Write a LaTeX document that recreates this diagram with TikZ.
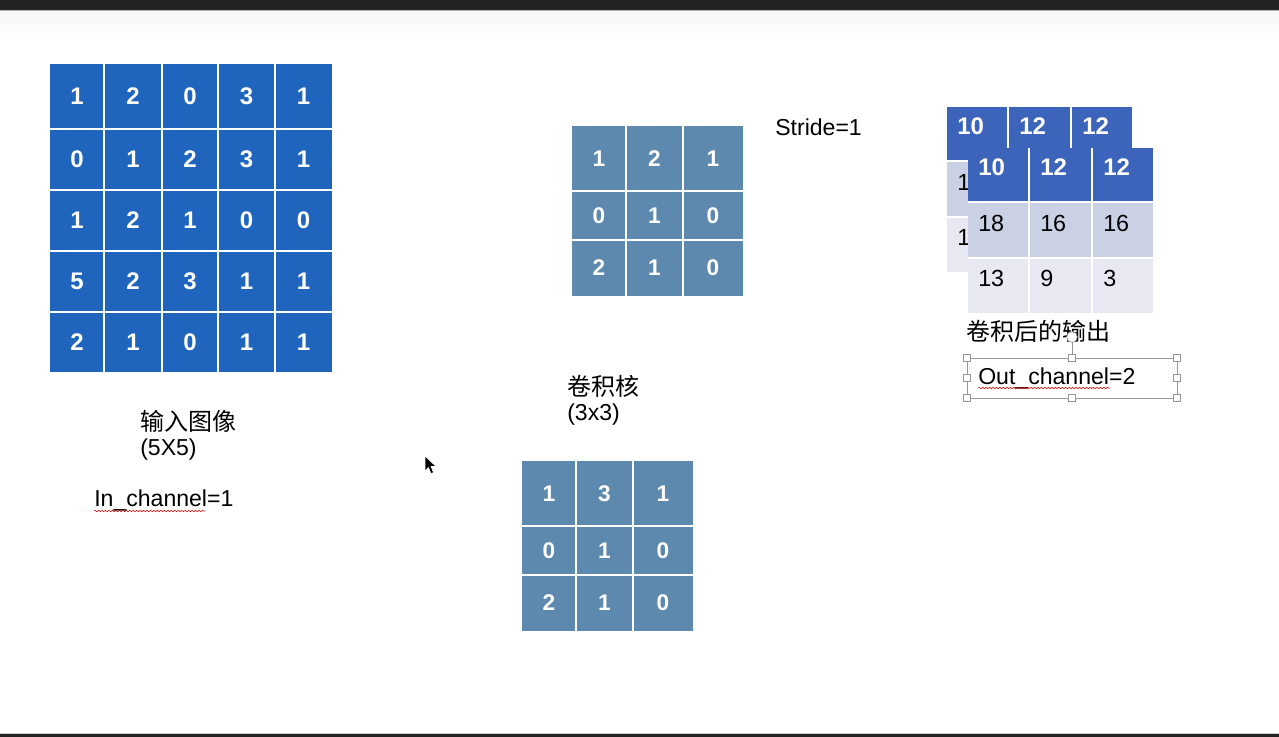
\documentclass[tikz,border=0pt]{standalone}
\usepackage{fontspec}
\setmainfont{Liberation Sans}
\newfontfamily\cjk{Noto Sans CJK SC}
\usetikzlibrary{decorations.pathmorphing}
\definecolor{inblue}{RGB}{31,101,190}
\definecolor{kblue}{RGB}{93,137,175}
\definecolor{hblue}{RGB}{61,100,187}
\definecolor{rowa}{RGB}{203,209,229}
\definecolor{rowb}{RGB}{231,232,242}
\definecolor{barc}{RGB}{35,35,35}
\definecolor{hgray}{RGB}{150,150,150}
\begin{document}
\begin{tikzpicture}[x=0.75pt,y=-0.75pt,
  innum/.style={font=\fontsize{18}{20}\selectfont\bfseries, text=white, inner sep=0},
  knum/.style={font=\fontsize{17}{19}\selectfont\bfseries, text=white, inner sep=0},
  hnum/.style={font=\fontsize{18}{20}\selectfont\bfseries, text=white, inner sep=0, anchor=west},
  bnum/.style={font=\fontsize{17.5}{20}\selectfont, text=black, inner sep=0, anchor=west},
  lbl/.style={font=\fontsize{17.3}{20}\selectfont, inner sep=0, anchor=west},
  clbl/.style={font=\fontsize{18}{20}\selectfont\cjk, inner sep=0, anchor=west},
  sep/.style={white, line width=1.1pt},
  handle/.style={draw=hgray, fill=white, line width=0.5pt, minimum size=5.5pt, inner sep=0, rectangle},
  wavy/.style={red!85!black, line width=0.4pt, decorate, decoration={snake, amplitude=0.55pt, segment length=2.6pt}}
]
\useasboundingbox (0,0) rectangle (1279,737);
% window bars
\fill[white] (0,0) rectangle (1279,737);
\shade[top color=gray!7, bottom color=white] (0,10) rectangle (1279,40);
\fill[barc] (0,0) rectangle (1279,10);
\draw[gray!60, line width=0.6pt] (0,10.5) -- (1279,10.5);
\draw[gray!35, line width=0.6pt] (0,733) -- (1279,733);
\fill[barc] (0,734) rectangle (1279,737);

% input grid
\fill[inblue] (50,64) rectangle (332,372);
\foreach \x in {104,162,218,275} \draw[sep] (\x,64) -- (\x,372);
\foreach \y in {129,190,251,312} \draw[sep] (50,\y) -- (332,\y);
\foreach \row [count=\r] in {{1,2,0,3,1},{0,1,2,3,1},{1,2,1,0,0},{5,2,3,1,1},{2,1,0,1,1}} {
  \foreach \v [count=\c] in \row {
    \pgfmathsetmacro\xc{{77,133,190,246.5,303.5}[\c-1]}
    \pgfmathsetmacro\yc{{96.5,159.5,220.5,281.5,342}[\r-1]}
    \node[innum] (in-\r-\c) at (\xc,\yc) {\v};
  }
}

% kernel 1
\fill[kblue] (572,126) rectangle (743,296);
\foreach \x in {626,683} \draw[sep] (\x,126) -- (\x,296);
\foreach \y in {191,240} \draw[sep] (572,\y) -- (743,\y);
\foreach \row [count=\r] in {{1,2,1},{0,1,0},{2,1,0}} {
  \foreach \v [count=\c] in \row {
    \pgfmathsetmacro\xc{{599,654.5,713}[\c-1]}
    \pgfmathsetmacro\yc{{158.5,215.5,268}[\r-1]}
    \node[knum] (ka-\r-\c) at (\xc,\yc) {\v};
  }
}

% kernel 2
\fill[kblue] (522,461) rectangle (693,631);
\foreach \x in {576,633} \draw[sep] (\x,461) -- (\x,631);
\foreach \y in {526,575} \draw[sep] (522,\y) -- (693,\y);
\foreach \row [count=\r] in {{1,3,1},{0,1,0},{2,1,0}} {
  \foreach \v [count=\c] in \row {
    \pgfmathsetmacro\xc{{549,604.5,663}[\c-1]}
    \pgfmathsetmacro\yc{{493.5,550.5,603}[\r-1]}
    \node[knum] (kb-\r-\c) at (\xc,\yc) {\v};
  }
}

% output tables (back, then front)
\foreach \dx/\dy/\nm in {-21/-41/ob, 0/0/of} {
  \begin{scope}[shift={(\dx,\dy)}]
    \fill[hblue] (968,148) rectangle (1153,202);
    \fill[rowa] (968,202) rectangle (1153,258);
    \fill[rowb] (968,258) rectangle (1153,313);
    \foreach \x in {1029,1092} \draw[sep] (\x,148) -- (\x,313);
    \foreach \y in {202,258} \draw[sep] (968,\y) -- (1153,\y);
    \node[hnum] (\nm-1-1) at (978,167) {10};
    \node[hnum] (\nm-1-2) at (1040,167) {12};
    \node[hnum] (\nm-1-3) at (1103,167) {12};
    \node[bnum] (\nm-2-1) at (978,223) {18};
    \node[bnum] (\nm-2-2) at (1040,223) {16};
    \node[bnum] (\nm-2-3) at (1103,223) {16};
    \node[bnum] (\nm-3-1) at (978,278) {13};
    \node[bnum] (\nm-3-2) at (1040,278) {9};
    \node[bnum] (\nm-3-3) at (1103,278) {3};
  \end{scope}
}

% labels
\node[lbl] (stride) at (775,127) {Stride=1};
\node[clbl] (inlbl) at (140,421) {输入图像};
\node[lbl] (insz) at (140,450) {(5X5)};
\node[lbl] (inch) at (94,500) {In\_channel=1};
\node[clbl] (klbl) at (567,386) {卷积核};
\node[lbl] (ksz) at (567,415) {(3x3)};
\node[clbl] (outlbl) at (966,331) {卷积后的输出};
\node[lbl] (outch) at (978,378) {Out\_channel=2};
\draw[wavy] (94,511) -- (205,511);
\draw[wavy] (978,388) -- (1110,388);

% selection frame
\draw[hgray, line width=0.6pt] (967,358) rectangle (1177,398);
\draw[hgray, line width=0.6pt] (1072,358) -- (1072,342);
\node[circle, draw=hgray, fill=white, line width=0.5pt, minimum size=8pt, inner sep=0] (rot) at (1072,337) {};
\foreach \p [count=\i] in {(967,358),(1072,358),(1177,358),(967,378),(1177,378),(967,398),(1072,398),(1177,398)}
  \node[handle] (h\i) at \p {};

% mouse cursor
\filldraw[black, draw=white, line width=0.4pt] (425,456) -- (425,471) -- (428.5,467.5) -- (431,473.5) -- (433.5,472.5) -- (431,466.5) -- (436,466.5) -- cycle;
\end{tikzpicture}
\end{document}
